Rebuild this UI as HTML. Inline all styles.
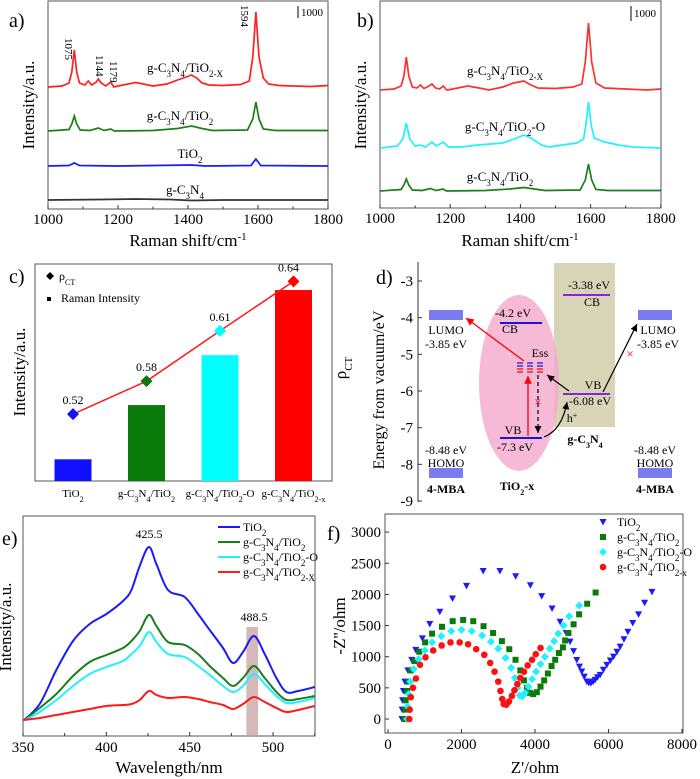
<!DOCTYPE html>
<html><head><meta charset="utf-8"><style>
html,body{margin:0;padding:0;background:#fff;}
svg{display:block;font-family:"Liberation Serif",serif;}
svg text, svg tspan{font-family:"Liberation Serif",serif;}
</style></head><body>
<svg id="fig" width="700" height="779" viewBox="0 0 700 779" xmlns="http://www.w3.org/2000/svg" font-family="Liberation Serif, serif">
<defs>
<marker id="arR" markerWidth="8" markerHeight="8" refX="6" refY="3" orient="auto"><path d="M0,0 L6,3 L0,6 Z" fill="#f00"/></marker>
<marker id="arK" markerWidth="8" markerHeight="8" refX="6" refY="3" orient="auto"><path d="M0,0 L6,3 L0,6 Z" fill="#000"/></marker>
</defs>

<!-- Panel a -->
<g>
<rect x="48" y="1" width="280" height="208" fill="none" stroke="#555" stroke-width="1"/>
<g id="a-curves"></g>
<text x="9" y="27" font-size="20">a)</text>
<line x1="298" y1="6" x2="298" y2="18" stroke="#000"/>
<text x="301" y="16" font-size="11">1000</text>
<text transform="translate(65,38) rotate(90)" font-size="11">1075</text>
<text transform="translate(96,55) rotate(90)" font-size="11">1144</text>
<text transform="translate(110,61) rotate(90)" font-size="11">1179</text>
<text transform="translate(241,5) rotate(90)" font-size="11">1594</text>
<text x="185" y="72" font-size="13" text-anchor="middle">g-C<tspan baseline-shift="sub" font-size="9">3</tspan>N<tspan baseline-shift="sub" font-size="9">4</tspan>/TiO<tspan baseline-shift="sub" font-size="9">2-X</tspan></text>
<text x="180" y="120" font-size="13" text-anchor="middle">g-C<tspan baseline-shift="sub" font-size="9">3</tspan>N<tspan baseline-shift="sub" font-size="9">4</tspan>/TiO<tspan baseline-shift="sub" font-size="9">2</tspan></text>
<text x="190" y="158" font-size="13" text-anchor="middle">TiO<tspan baseline-shift="sub" font-size="9">2</tspan></text>
<text x="185" y="194" font-size="13" text-anchor="middle">g-C<tspan baseline-shift="sub" font-size="9">3</tspan>N<tspan baseline-shift="sub" font-size="9">4</tspan></text>
<g id="a-ticks" font-size="15" text-anchor="middle"></g>
<text x="188" y="246" font-size="17" text-anchor="middle">Raman shift/cm<tspan baseline-shift="super" font-size="11">-1</tspan></text>
<text transform="translate(34,105) rotate(-90)" font-size="17" text-anchor="middle">Intensity/a.u.</text>
</g>

<!-- Panel b -->
<g>
<rect x="380" y="1" width="281" height="207" fill="none" stroke="#555" stroke-width="1"/>
<g id="b-curves"></g>
<text x="357" y="27" font-size="20">b)</text>
<line x1="631" y1="6" x2="631" y2="21" stroke="#000"/>
<text x="634" y="17" font-size="11">1000</text>
<text x="505" y="75" font-size="13" text-anchor="middle">g-C<tspan baseline-shift="sub" font-size="9">3</tspan>N<tspan baseline-shift="sub" font-size="9">4</tspan>/TiO<tspan baseline-shift="sub" font-size="9">2-X</tspan></text>
<text x="505" y="131" font-size="13" text-anchor="middle">g-C<tspan baseline-shift="sub" font-size="9">3</tspan>N<tspan baseline-shift="sub" font-size="9">4</tspan>/TiO<tspan baseline-shift="sub" font-size="9">2</tspan>-O</text>
<text x="500" y="181" font-size="13" text-anchor="middle">g-C<tspan baseline-shift="sub" font-size="9">3</tspan>N<tspan baseline-shift="sub" font-size="9">4</tspan>/TiO<tspan baseline-shift="sub" font-size="9">2</tspan></text>
<g id="b-ticks" font-size="15" text-anchor="middle"></g>
<text x="520" y="246" font-size="17" text-anchor="middle">Raman shift/cm<tspan baseline-shift="super" font-size="11">-1</tspan></text>
<text transform="translate(366,105) rotate(-90)" font-size="17" text-anchor="middle">Intensity/a.u.</text>
</g>

<!-- Panel c -->
<g>
<rect x="35" y="264" width="297" height="217" fill="none" stroke="#555" stroke-width="1"/>
<g id="c-marks"></g>
<text x="9" y="283" font-size="20">c)</text>
<path d="M50,272 l4,4 l-4,4 l-4,-4 Z" fill="#000"/>
<text x="59" y="280" font-size="12">ρ<tspan baseline-shift="sub" font-size="8">CT</tspan></text>
<rect x="47" y="297" width="4" height="4" fill="#000"/>
<text x="61" y="302" font-size="12">Raman Intensity</text>
<text transform="translate(25,372) rotate(-90)" font-size="17" text-anchor="middle">Intensity/a.u.</text>
<text transform="translate(346,368) rotate(-90)" font-size="17" text-anchor="middle">ρ<tspan baseline-shift="sub" font-size="11">CT</tspan></text>
</g>

<!-- Panel d -->
<g>
<rect x="554" y="263" width="61" height="164" fill="#d8d5b6"/>
<ellipse cx="519" cy="383" rx="40" ry="88" fill="#f4a8cc" fill-opacity="0.8"/>
<line x1="418" y1="262" x2="418" y2="502" stroke="#333"/>
<g id="d-ticks" font-size="15" text-anchor="end"></g>
<text x="376" y="284" font-size="20">d)</text>
<text transform="translate(384,390) rotate(-90)" font-size="16" text-anchor="middle">Energy from vacuum/eV</text>
<g fill="#7b7bf0">
<rect x="429" y="310" width="34" height="10"/>
<rect x="429" y="468" width="34" height="10"/>
<rect x="638" y="310" width="34" height="10"/>
<rect x="638" y="468" width="34" height="10"/>
</g>
<g font-size="12" text-anchor="middle">
<text x="446" y="334">LUMO</text>
<text x="446" y="348">-3.85 eV</text>
<text x="446" y="454">-8.48 eV</text>
<text x="446" y="467">HOMO</text>
<text x="446" y="493" font-weight="bold">4-MBA</text>
<text x="658" y="334">LUMO</text>
<text x="658" y="348">-3.85 eV</text>
<text x="655" y="454">-8.48 eV</text>
<text x="655" y="467">HOMO</text>
<text x="655" y="493" font-weight="bold">4-MBA</text>
<text x="513" y="317">-4.2 eV</text>
<text x="510" y="333">CB</text>
<text x="513" y="434">VB</text>
<text x="515" y="451">-7.3 eV</text>
<text x="589" y="289">-3.38 eV</text>
<text x="592" y="306">CB</text>
<text x="593" y="389">VB</text>
<text x="590" y="405">-6.08 eV</text>
<text x="540" y="357">Ess</text>
<text x="572" y="422">h<tspan baseline-shift="super" font-size="8">+</tspan></text>
<text x="585" y="443" font-weight="bold">g-C<tspan baseline-shift="sub" font-size="8">3</tspan>N<tspan baseline-shift="sub" font-size="8">4</tspan></text>
<text x="517" y="490" font-weight="bold">TiO<tspan baseline-shift="sub" font-size="8">2</tspan>-x</text>
</g>
<line x1="500" y1="323" x2="542" y2="323" stroke="#1515e0" stroke-width="2"/>
<line x1="500" y1="438" x2="542" y2="438" stroke="#1515e0" stroke-width="2"/>
<line x1="563" y1="295" x2="610" y2="295" stroke="#9020e0" stroke-width="2"/>
<line x1="563" y1="394" x2="610" y2="394" stroke="#9020e0" stroke-width="2"/>
<g>
<path d="M517,363h6M527,363h6M537,363h6" stroke="#1515e0" stroke-width="1.2"/>
<path d="M517,366h6M527,366h6M537,366h6" stroke="#1515e0" stroke-width="1.2"/>
<path d="M517,369h6M527,369h6M537,369h6" stroke="#f00" stroke-width="1.2"/>
<path d="M517,372h6M527,372h6M537,372h6" stroke="#f00" stroke-width="1.2"/>
</g>
<line x1="524" y1="361" x2="466" y2="318" stroke="#f00" stroke-width="1.3" marker-end="url(#arR)"/>
<line x1="528" y1="436" x2="528" y2="376" stroke="#f00" stroke-width="1.3" marker-end="url(#arR)"/>
<line x1="538" y1="375" x2="538" y2="433" stroke="#000" stroke-width="1.2" stroke-dasharray="4,3" marker-end="url(#arK)"/>
<line x1="569" y1="391" x2="547" y2="375" stroke="#000" stroke-width="1.2" marker-end="url(#arK)"/>
<path d="M544,437 Q562,430 567,402" fill="none" stroke="#000" stroke-width="1.2" marker-end="url(#arK)"/>
<line x1="603" y1="392" x2="637" y2="324" stroke="#000" stroke-width="1.2" marker-end="url(#arK)"/>
<text x="538" y="406" font-size="13" fill="#f00" text-anchor="middle">×</text>
<text x="630" y="358" font-size="13" fill="#f00" text-anchor="middle">×</text>
</g>

<!-- Panel e -->
<g>
<rect x="23" y="516" width="292" height="220" fill="none" stroke="#555" stroke-width="1"/>
<g id="e-curves"></g>
<text x="2" y="545" font-size="20">e)</text>
<text x="149" y="538" font-size="12" text-anchor="middle">425.5</text>
<text x="254" y="621" font-size="12" text-anchor="middle">488.5</text>
<g id="e-legend" font-size="12"></g>
<g id="e-ticks" font-size="15" text-anchor="middle"></g>
<text x="169" y="773" font-size="17" text-anchor="middle">Wavelength/nm</text>
<text transform="translate(11,627) rotate(-90)" font-size="17" text-anchor="middle">Intensity/a.u.</text>
</g>

<!-- Panel f -->
<g>
<rect x="385" y="514" width="298" height="219" fill="none" stroke="#555" stroke-width="1"/>
<g id="f-points"></g>
<text x="327" y="540" font-size="20">f)</text>
<g id="f-legend" font-size="12"></g>
<g id="f-ticks" font-size="15"></g>
<text x="535" y="773" font-size="17" text-anchor="middle">Z'/ohm</text>
<text transform="translate(345,626) rotate(-90)" font-size="17" text-anchor="middle">-Z''/ohm</text>
</g>
</svg>

<script>
const NS = "http://www.w3.org/2000/svg";
// ---------- Data: panel a (Raman, counts above baseline) ----------
const ramanTicks = [1000, 1200, 1400, 1600, 1800];
const aRedTiO2X = [[1000,0],[1040,100],[1060,400],[1068,1500],[1075,3700],[1082,1500],[1090,400],[1105,200],[1115,600],[1125,200],[1138,500],[1144,800],[1152,400],[1165,100],[1179,500],[1188,0],[1200,100],[1250,450],[1280,250],[1300,100],[1340,300],[1370,700],[1395,1000],[1410,1200],[1425,900],[1440,400],[1460,200],[1500,150],[1550,250],[1575,600],[1585,3000],[1594,7500],[1603,3000],[1615,900],[1630,300],[1660,150],[1700,100],[1750,50],[1800,150]];
const aGreenTiO2 = [[1000,0],[1060,150],[1068,700],[1075,1500],[1082,700],[1092,100],[1120,50],[1144,300],[1160,50],[1179,200],[1190,0],[1300,50],[1370,250],[1410,500],[1440,250],[1470,50],[1570,100],[1585,1200],[1594,2900],[1603,1200],[1615,200],[1650,50],[1800,50]];
const aBlueTiO2 = [[1000,0],[1060,50],[1075,300],[1090,50],[1200,0],[1410,100],[1450,0],[1580,50],[1594,700],[1608,50],[1800,0]];
const aBlackGC3N4 = [[1000,0],[1150,50],[1250,100],[1350,50],[1410,-50],[1500,0],[1800,0]];
const aOffsets = [12200, 7800, 4300, 900];
// ---------- Data: panel b ----------
const bRedTiO2X = [[1000,0],[1040,100],[1060,400],[1068,1400],[1075,3300],[1082,1400],[1092,300],[1105,200],[1115,500],[1125,150],[1140,400],[1148,600],[1158,200],[1170,100],[1180,400],[1190,0],[1200,50],[1250,400],[1290,150],[1310,0],[1350,300],[1380,700],[1410,900],[1430,500],[1450,200],[1500,150],[1550,300],[1575,600],[1585,2800],[1594,6700],[1603,2800],[1615,700],[1640,200],[1700,100],[1760,0],[1800,100]];
const bCyanTiO2O = [[1000,0],[1050,200],[1065,900],[1075,2500],[1085,900],[1100,200],[1115,300],[1130,100],[1148,600],[1160,200],[1180,600],[1195,100],[1230,100],[1280,300],[1350,500],[1390,1000],[1410,1300],[1430,1000],[1460,300],[1480,100],[1520,300],[1560,500],[1580,900],[1587,2400],[1594,4600],[1601,2400],[1610,1000],[1640,600],[1680,300],[1720,100],[1800,0]];
const bGreenTiO2 = [[1000,0],[1060,150],[1068,600],[1075,1200],[1082,600],[1092,100],[1120,50],[1144,250],[1160,50],[1179,200],[1190,0],[1300,50],[1370,200],[1410,350],[1440,200],[1470,50],[1570,100],[1585,1100],[1594,2700],[1603,1100],[1615,150],[1650,50],[1800,50]];
const bOffsets = [11800, 6000, 1700];
// ---------- Data: panel c ----------
const cCategories = ["TiO2", "g-C3N4/TiO2", "g-C3N4/TiO2-O", "g-C3N4/TiO2-x"];
const cRamanIntensity = [10, 35, 58, 88];
const cRhoLabels = ["0.52", "0.58", "0.61", "0.64"];
const cRhoPlotted = [0.527, 0.565, 0.623, 0.680];
// ---------- Data: panel d ----------
const dTicks = [-3, -4, -5, -6, -7, -8, -9];
// ---------- Data: panel e (PL) ----------
const eWavelength = [350,360,370,380,390,400,410,415,420,425.5,430,437,447,455,462,470,476,482,488.5,495,502,508,515,525];
const eTiO2 = [15,32,66,95,112,122,135,146,170,189,172,146,139,122,106,88,73,84,100,82,58,44,45,49];
const eGCN = [15,28,42,60,74,81,88,95,105,121,110,94,91,82,70,58,50,58,70,58,44,36,37,40];
const eGCNO = [15,24,36,50,62,69,75,82,90,104,94,82,79,70,61,50,44,50,62,52,40,33,34,38];
const eGCNX = [16,18,21,24,27,30,31,32,36,45,41,38,39,37,34,31,27,32,39,34,28,24,26,30];
const eTicks = [350, 400, 450, 500];
// ---------- Data: panel f (EIS Nyquist) ----------
const fTiO2 = [[380,0],[385,150],[395,300],[420,450],[460,600],[540,780],[645,950],[755,1110],[936,1295],[1136,1524],[1410,1721],[1755,1934],[2136,2137],[2590,2376],[3045,2376],[3473,2291],[3873,2147],[4182,1972],[4464,1774],[4682,1561],[4850,1380],[4955,1241],[5050,1090],[5136,948],[5210,840],[5273,762],[5340,680],[5409,602],[5460,580],[5520,575],[5580,600],[5636,629],[5700,670],[5773,709],[5860,790],[5955,869],[6050,940],[6136,1002],[6230,1080],[6318,1162],[6420,1280],[6527,1401],[6660,1540],[6818,1679],[6982,1865],[7182,2041]];
const fGCN = [[450,0],[460,150],[480,300],[520,450],[560,600],[620,780],[720,930],[850,1080],[1010,1230],[1200,1370],[1470,1480],[1760,1570],[2045,1590],[2320,1570],[2600,1490],[2860,1380],[3100,1250],[3300,1120],[3470,950],[3600,780],[3700,620],[3780,500],[3860,420],[3950,400],[4050,430],[4150,520],[4250,620],[4350,730],[4450,850],[4550,950],[4650,1060],[4760,1150],[4820,1260],[4910,1380],[5050,1520],[5200,1680],[5420,1850],[5650,2030]];
const fGCNO = [[520,0],[530,200],[560,400],[610,600],[700,800],[830,960],[1000,1100],[1200,1230],[1450,1330],[1720,1410],[2000,1430],[2280,1410],[2560,1340],[2800,1240],[3000,1130],[3200,980],[3350,820],[3450,660],[3520,500],[3580,380],[3650,360],[3730,420],[3820,520],[3920,640],[4030,760],[4150,880],[4270,1000],[4400,1130],[4520,1250],[4630,1370],[4780,1500],[4930,1650],[5200,1820]];
const fGCNX = [[580,0],[590,150],[620,350],[680,500],[760,650],[870,870],[1020,990],[1230,1100],[1460,1180],[1700,1230],[1950,1230],[2180,1200],[2400,1120],[2620,1030],[2780,900],[2900,760],[3000,600],[3060,450],[3110,320],[3150,240],[3220,230],[3290,280],[3370,370],[3440,460],[3520,560],[3600,660],[3700,760],[3800,860],[3920,950],[4020,1040],[4150,1140]];
const fXTicks = [0, 2000, 4000, 6000, 8000];
const fYTicks = [0, 500, 1000, 1500, 2000, 2500, 3000];

function el(tag, attrs, parent) {
  const e = document.createElementNS(NS, tag);
  for (const k in attrs) e.setAttribute(k, attrs[k]);
  parent.appendChild(e);
  return e;
}
function sub(textEl, main, s) {
  const t = document.createElementNS(NS, "tspan"); t.textContent = main; textEl.appendChild(t);
  if (s) { const u = document.createElementNS(NS, "tspan"); u.setAttribute("baseline-shift","sub"); u.setAttribute("font-size","75%"); u.textContent = s; textEl.appendChild(u); }
}
function chemLabel(textEl, name) {
  const buf = name.split(/(\d+(?:-[xX])?)/);
  buf.forEach(p => { if (!p) return; if (/^\d/.test(p)) sub(textEl, "", p); else sub(textEl, p, null); });
}

// ----- Raman panels -----
function ramanPanel(gid, tickId, x0, pxPerCm, yBottom, spectra, offsets, colors, names) {
  const g = document.getElementById(gid);
  const xs = s => x0 + (s - 1000) * pxPerCm;
  const ys = c => yBottom - c / 100;
  spectra.forEach((sp, i) => {
    const d = sp.map((p, j) => (j ? "L" : "M") + xs(p[0]).toFixed(1) + "," + ys(p[1] + offsets[i]).toFixed(1)).join("");
    const path = el("path", {d: d, fill: "none", stroke: colors[i], "stroke-width": 1.7}, g);
    
    
  });
  const tg = document.getElementById(tickId);
  ramanTicks.forEach(t => {
    const ln = el("line", {x1: xs(t), x2: xs(t), y1: yBottom, y2: yBottom - 4, stroke: "#333"}, tg);
    
    
    const tx = el("text", {x: xs(t), y: yBottom + 15}, tg);
    tx.textContent = t;
    
    
  });
  for (let t = 1100; t < 1800; t += 200) {
    const ln = el("line", {x1: xs(t), x2: xs(t), y1: yBottom, y2: yBottom - 2.5, stroke: "#333"}, tg);
    
    
  }
}
ramanPanel("a-curves", "a-ticks", 48, 0.35, 209, [aRedTiO2X, aGreenTiO2, aBlueTiO2, aBlackGC3N4], aOffsets, ["#ff2020", "#1a7f1a", "#1a1aff", "#333"], ["spectrum-a-tio2x", "spectrum-a-tio2-comp", "spectrum-a-tio2", "spectrum-a-gc3n4"]);
ramanPanel("b-curves", "b-ticks", 380, 0.351, 208, [bRedTiO2X, bCyanTiO2O, bGreenTiO2], bOffsets, ["#ff3030", "#20f0ff", "#1a7f1a"], ["spectrum-b-tio2x", "spectrum-b-tio2o", "spectrum-b-tio2-comp"]);

// ----- Panel c -----
(function () {
  const g = document.getElementById("c-marks");
  const yB = 481, h = 217;
  const yBar = v => yB - v / 100 * h;
  const yRho = v => yB - (v - 0.45) / 0.25 * h;
  const xc = i => 73 + i * 73.5;
  const colors = ["#1010ff", "#0a7a0a", "#00ffff", "#ff0000"];
  cCategories.forEach((c, i) => {
    const r = el("rect", {x: xc(i) - 18.5, y: yBar(cRamanIntensity[i]), width: 37, height: yB - yBar(cRamanIntensity[i]), fill: colors[i]}, g);
    
    
    const t = el("text", {x: xc(i), y: 497, "font-size": 11, "text-anchor": "middle"}, g);
    chemLabel(t, c);
    
    
  });
  const d = cRhoPlotted.map((v, i) => (i ? "L" : "M") + xc(i) + "," + yRho(v)).join("");
  const line = el("path", {d: d, fill: "none", stroke: "#ff1a1a", "stroke-width": 1.5}, g);
  
  
  cRhoPlotted.forEach((v, i) => {
    const x = xc(i), y = yRho(v);
    const m = el("path", {d: `M${x},${y-6}L${x+6},${y}L${x},${y+6}L${x-6},${y}Z`, fill: colors[i]}, g);
    
    
    const t = el("text", {x: x - (i === 3 ? 5 : 0), y: y - 10, "font-size": 12, "text-anchor": "middle"}, g);
    t.textContent = cRhoLabels[i];
    
    
  });
})();

// ----- Panel d ticks -----
(function () {
  const g = document.getElementById("d-ticks");
  const y = v => 281 + (-3 - v) * 36.67;
  dTicks.forEach(v => {
    const ln = el("line", {x1: 418, x2: 422, y1: y(v), y2: y(v), stroke: "#333"}, g);
    
    
    const t = el("text", {x: 413, y: y(v) + 5}, g);
    t.textContent = v;
    
    
  });
})();

// ----- Panel e -----
(function () {
  const g = document.getElementById("e-curves");
  const xs = w => 23 + (w - 350) * 1.667;
  const ys = v => 736 - v;
  const band = el("rect", {x: xs(484), y: 627, width: xs(491) - xs(484), height: 109, fill: "#c8a0a0", "fill-opacity": 0.75}, g);
  
  
  const series = [eTiO2, eGCN, eGCNO, eGCNX];
  const colors = ["#1a1aff", "#1a7f1a", "#20f0ff", "#ff1a1a"];
  const names = ["TiO2", "g-C3N4/TiO2", "g-C3N4/TiO2-O", "g-C3N4/TiO2-X"];
  series.forEach((s, i) => {
    const pts = eWavelength.map((w, j) => [xs(w), ys(s[j])]);
    let d = "M" + pts[0][0] + "," + pts[0][1];
    for (let j = 1; j < pts.length; j++) {
      const p0 = pts[j - 2] || pts[j - 1], p1 = pts[j - 1], p2 = pts[j], p3 = pts[j + 1] || p2;
      const c1x = p1[0] + (p2[0] - p0[0]) / 6, c1y = p1[1] + (p2[1] - p0[1]) / 6;
      const c2x = p2[0] - (p3[0] - p1[0]) / 6, c2y = p2[1] - (p3[1] - p1[1]) / 6;
      d += `C${c1x.toFixed(1)},${c1y.toFixed(1)} ${c2x.toFixed(1)},${c2y.toFixed(1)} ${p2[0].toFixed(1)},${p2[1].toFixed(1)}`;
    }
    const p = el("path", {d: d, fill: "none", stroke: colors[i], "stroke-width": 2}, g);
    
    
  });
  const lg = document.getElementById("e-legend");
  names.forEach((n, i) => {
    const y = 527 + i * 15;
    const ln = el("line", {x1: 218, x2: 240, y1: y, y2: y, stroke: colors[i], "stroke-width": 2}, lg);
    
    
    const t = el("text", {x: 243, y: y + 4}, lg);
    chemLabel(t, n);
    
    
  });
  const tg = document.getElementById("e-ticks");
  eTicks.forEach(w => {
    const ln = el("line", {x1: xs(w), x2: xs(w), y1: 736, y2: 732, stroke: "#333"}, tg);
    
    
    const t = el("text", {x: xs(w), y: 752}, tg);
    t.textContent = w;
    
    
  });
  [375, 425, 475, 525].forEach(w => {
    const ln = el("line", {x1: xs(w), x2: xs(w), y1: 736, y2: 733, stroke: "#333"}, tg);
    
    
  });
})();

// ----- Panel f -----
(function () {
  const g = document.getElementById("f-points");
  const xs = z => 388 + z * 0.03675;
  const ys = z => 719 - z * 0.0623;
  function marker(kind, x, y, color, parent) {
    let m;
    if (kind === "tri") m = el("path", {d: `M${x-3.5},${y-3}L${x+3.5},${y-3}L${x},${y+3.5}Z`, fill: color}, parent);
    else if (kind === "sq") m = el("rect", {x: x - 3, y: y - 3, width: 6, height: 6, fill: color}, parent);
    else if (kind === "dia") m = el("path", {d: `M${x},${y-4}L${x+4},${y}L${x},${y+4}L${x-4},${y}Z`, fill: color}, parent);
    else m = el("circle", {cx: x, cy: y, r: 3.3, fill: color}, parent);
    return m;
  }
  const sets = [fTiO2, fGCN, fGCNO, fGCNX];
  const kinds = ["tri", "sq", "dia", "circ"];
  const colors = ["#1a1aff", "#0a7a0a", "#20f0ff", "#ff1010"];
  const names = ["TiO2", "g-C3N4/TiO2", "g-C3N4/TiO2-O", "g-C3N4/TiO2-x"];
  sets.forEach((s, i) => {
    s.forEach(p => {
      const m = marker(kinds[i], xs(p[0]), ys(p[1]), colors[i], g);
      
      
    });
  });
  const lg = document.getElementById("f-legend");
  names.forEach((n, i) => {
    const y = 522 + i * 15;
    const m = marker(kinds[i], 603, y, colors[i], lg);
    
    
    const t = el("text", {x: 617, y: y + 4}, lg);
    chemLabel(t, n);
    
    
  });
  const tg = document.getElementById("f-ticks");
  fXTicks.forEach(v => {
    const ln = el("line", {x1: xs(v), x2: xs(v), y1: 733, y2: 729, stroke: "#333"}, tg);
    
    
    const t = el("text", {x: xs(v), y: 749, "text-anchor": "middle"}, tg);
    t.textContent = v;
    
    
  });
  fYTicks.forEach(v => {
    const ln = el("line", {x1: 385, x2: 389, y1: ys(v), y2: ys(v), stroke: "#333"}, tg);
    
    
    const t = el("text", {x: 381, y: ys(v) + 5, "text-anchor": "end"}, tg);
    t.textContent = v;
    
    
  });
})();
</script>
</body></html>
